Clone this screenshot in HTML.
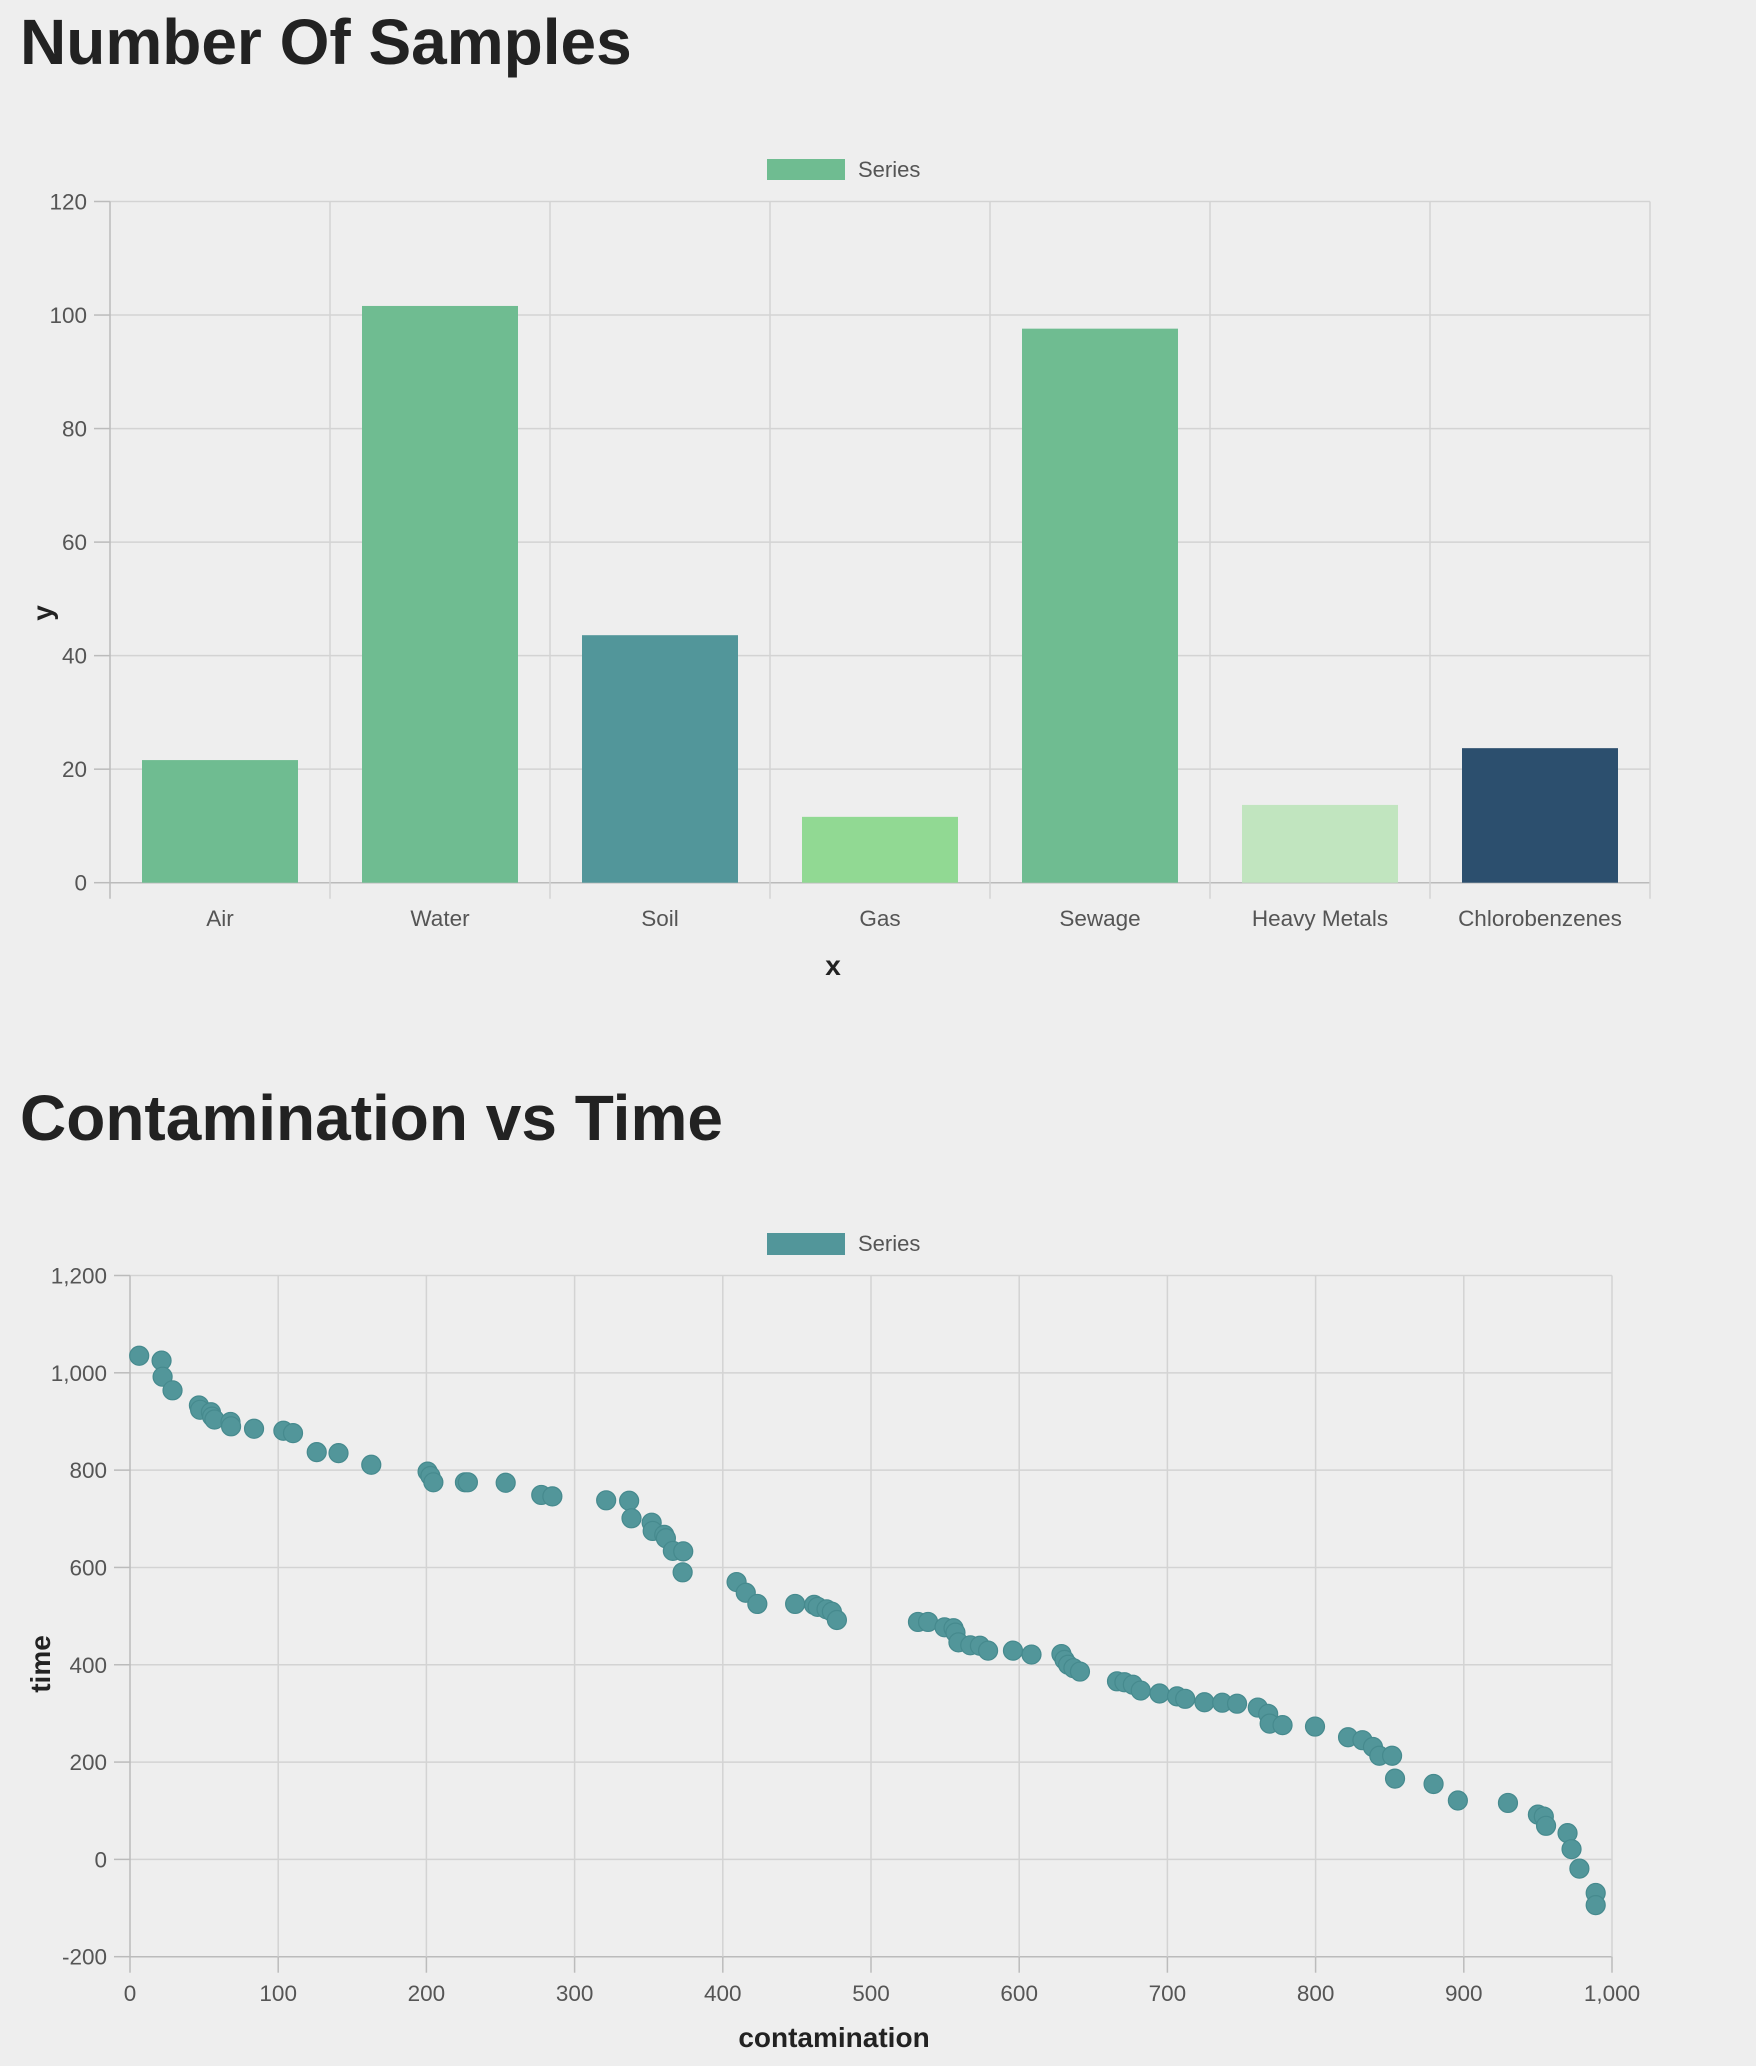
<!DOCTYPE html>
<html><head><meta charset="utf-8">
<style>
html,body{margin:0;padding:0;background:#eeeeee;}
svg{display:block;font-family:"Liberation Sans",Arial,sans-serif;}
</style></head>
<body>
<svg id="root" width="1756" height="2066" viewBox="0 0 1756 2066">
<rect x="0" y="0" width="1756" height="2066" fill="#eeeeee"/>
<text x="20" y="64" font-size="64" font-weight="bold" fill="#222">Number Of Samples</text>
<g>
<rect x="767" y="159" width="78" height="21" fill="#6fbc91"/>
<text x="858" y="177" font-size="22" fill="#555">Series</text>
</g>
<g id="bar"></g>
<text x="20" y="1140" font-size="64" font-weight="bold" fill="#222">Contamination vs Time</text>
<g>
<rect x="767" y="1233" width="78" height="22" fill="#52969a"/>
<text x="858" y="1251" font-size="22" fill="#555">Series</text>
</g>
<g id="scatter"></g>
</svg>
<script>
const categories = ["Air","Water","Soil","Gas","Sewage","Heavy Metals","Chlorobenzenes"];
const barValues = [21.6,101.6,43.6,11.6,97.6,13.7,23.7];
const barColors = ["#6fbc91","#6fbc91","#52969a","#91d993","#6fbc91","#c1e5bf","#2c4f6e"];
const barYTicks = [0,20,40,60,80,100,120];

const scatterX = [6.2,21.3,22,28.7,46.5,47.3,54.6,55.4,57,67.8,68.2,83.7,103.5,110,126,140.7,162.8,200.8,202.7,204.7,226,228,253.5,277.5,285,321.3,336.8,338.4,352,352.7,360.5,361.6,366.3,373.3,372.9,409.3,415.5,423.3,448.8,461.6,464,470,473.6,477,
531.7,538.5,549.6,555.7,557,559,567,573.5,579,595.8,608.3,628.5,630.6,633,636.6,641,666,671,676.7,682,694.7,706.5,712,725,737,747,761,768,769,777.7,799.6,821.9,831.6,838.7,843,851.6,853.6,879.6,896,929.8,950,954,955.5,970,972.7,978,989,989];
const scatterY = [1035,1025,992,964,933,924,919,910,904,899,890,885,881,876,837,835,811,797,788,775,775,775,774,749,746,738,737,701,692,675,667,660,634,633,590,570,548,525,525,523,519,514,509,492,
488,488,477,475,466,446,440,439,429,429,421,422,410,400,393,386,366,364,359,347,341,335,330,323,322,320,312,299,279,276,273,251,245,231,213,213,166,155,121,116,92,88,69,54,21,-19,-69,-94];
const scatterXTicks = [0,100,200,300,400,500,600,700,800,900,1000];
const scatterYTicks = [-200,0,200,400,600,800,1000,1200];

const NS = "http://www.w3.org/2000/svg";
function mk(parent, tag, attrs, text){
  const e = document.createElementNS(NS, tag);
  for (const k in attrs) e.setAttribute(k, attrs[k]);
  if (text !== undefined) e.textContent = text;
  parent.appendChild(e);
  return e;
}
function fmt(v){ return v.toLocaleString("en-US"); }

// ---- bar chart ----
(function(){
  const g = document.getElementById("bar");
  const L = 110, R = 1650, T = 201.5, B = 882.7;
  const band = (R - L) / categories.length;
  const yS = v => B - (v / 120) * (B - T);
  const grid = mk(g, "g", {});
  
  
  barYTicks.forEach(t => {
    const ln = mk(grid, "line", {x1:L, x2:R, y1:yS(t), y2:yS(t), stroke: t===0 ? "#bbbbbb" : "#d3d3d3", "stroke-width":1.5});
    
    
    const tk = mk(grid, "line", {x1:L-16, x2:L, y1:yS(t), y2:yS(t), stroke:"#bbbbbb", "stroke-width":1.5});
    
    
    const lb = mk(grid, "text", {x:L-23, y:yS(t)+8, "text-anchor":"end", "font-size":22.5, fill:"#555"}, fmt(t));
    
    
  });
  for (let i = 0; i <= categories.length; i++) {
    const x = L + i * band;
    const ln = mk(grid, "line", {x1:x, x2:x, y1:T, y2:B+16, stroke: i===0 ? "#bbbbbb" : "#d3d3d3", "stroke-width":1.5});
    
    
  }
  categories.forEach((c, i) => {
    const x0 = L + i * band + 32;
    const w = band - 64;
    const r = mk(g, "rect", {x:x0, y:yS(barValues[i]), width:w, height:B - yS(barValues[i]), fill:barColors[i]});
    
    
    const lb = mk(g, "text", {x:L + (i+0.5)*band, y:926, "text-anchor":"middle", "font-size":22.5, fill:"#555"}, c);
    
    
  });
  const xt = mk(g, "text", {x:833, y:975, "text-anchor":"middle", "font-size":28, "font-weight":"bold", fill:"#222"}, "x");
  
  
  const yt = mk(g, "text", {x:0, y:0, transform:"translate(52,613) rotate(-90)", "text-anchor":"middle", "font-size":28, "font-weight":"bold", fill:"#222"}, "y");
  
  
})();

// ---- scatter chart ----
(function(){
  const g = document.getElementById("scatter");
  const L = 130, R = 1612, T = 1275.5, B = 1956.7;
  const xS = v => L + (v / 1000) * (R - L);
  const yS = v => B - ((v + 200) / 1400) * (B - T);
  const grid = mk(g, "g", {});
  
  
  scatterYTicks.forEach(t => {
    const ln = mk(grid, "line", {x1:L, x2:R, y1:yS(t), y2:yS(t), stroke: t===-200 ? "#bbbbbb" : "#d3d3d3", "stroke-width":1.5});
    
    
    const tk = mk(grid, "line", {x1:L-16, x2:L, y1:yS(t), y2:yS(t), stroke:"#bbbbbb", "stroke-width":1.5});
    
    
    const lb = mk(grid, "text", {x:L-23, y:yS(t)+8, "text-anchor":"end", "font-size":22.5, fill:"#555"}, fmt(t));
    
    
  });
  scatterXTicks.forEach(t => {
    const ln = mk(grid, "line", {x1:xS(t), x2:xS(t), y1:T, y2:B, stroke: t===0 ? "#bbbbbb" : "#d3d3d3", "stroke-width":1.5});
    
    
    const tk = mk(grid, "line", {x1:xS(t), x2:xS(t), y1:B, y2:B+16, stroke:"#bbbbbb", "stroke-width":1.5});
    
    
    const lb = mk(grid, "text", {x:xS(t), y:2001, "text-anchor":"middle", "font-size":22.5, fill:"#555"}, fmt(t));
    
    
  });
  const pts = mk(g, "g", {});
  
  
  scatterX.forEach((v, i) => {
    const c = mk(pts, "circle", {cx:xS(v), cy:yS(scatterY[i]), r:9.5, fill:"#52969a", stroke:"#468a8e", "stroke-width":1.2});
    
    
  });
  const xt = mk(g, "text", {x:834, y:2047, "text-anchor":"middle", "font-size":28, "font-weight":"bold", fill:"#222"}, "contamination");
  
  
  const yt = mk(g, "text", {x:0, y:0, transform:"translate(50,1664) rotate(-90)", "text-anchor":"middle", "font-size":28, "font-weight":"bold", fill:"#222"}, "time");
  
  
})();
</script>
</body></html>
